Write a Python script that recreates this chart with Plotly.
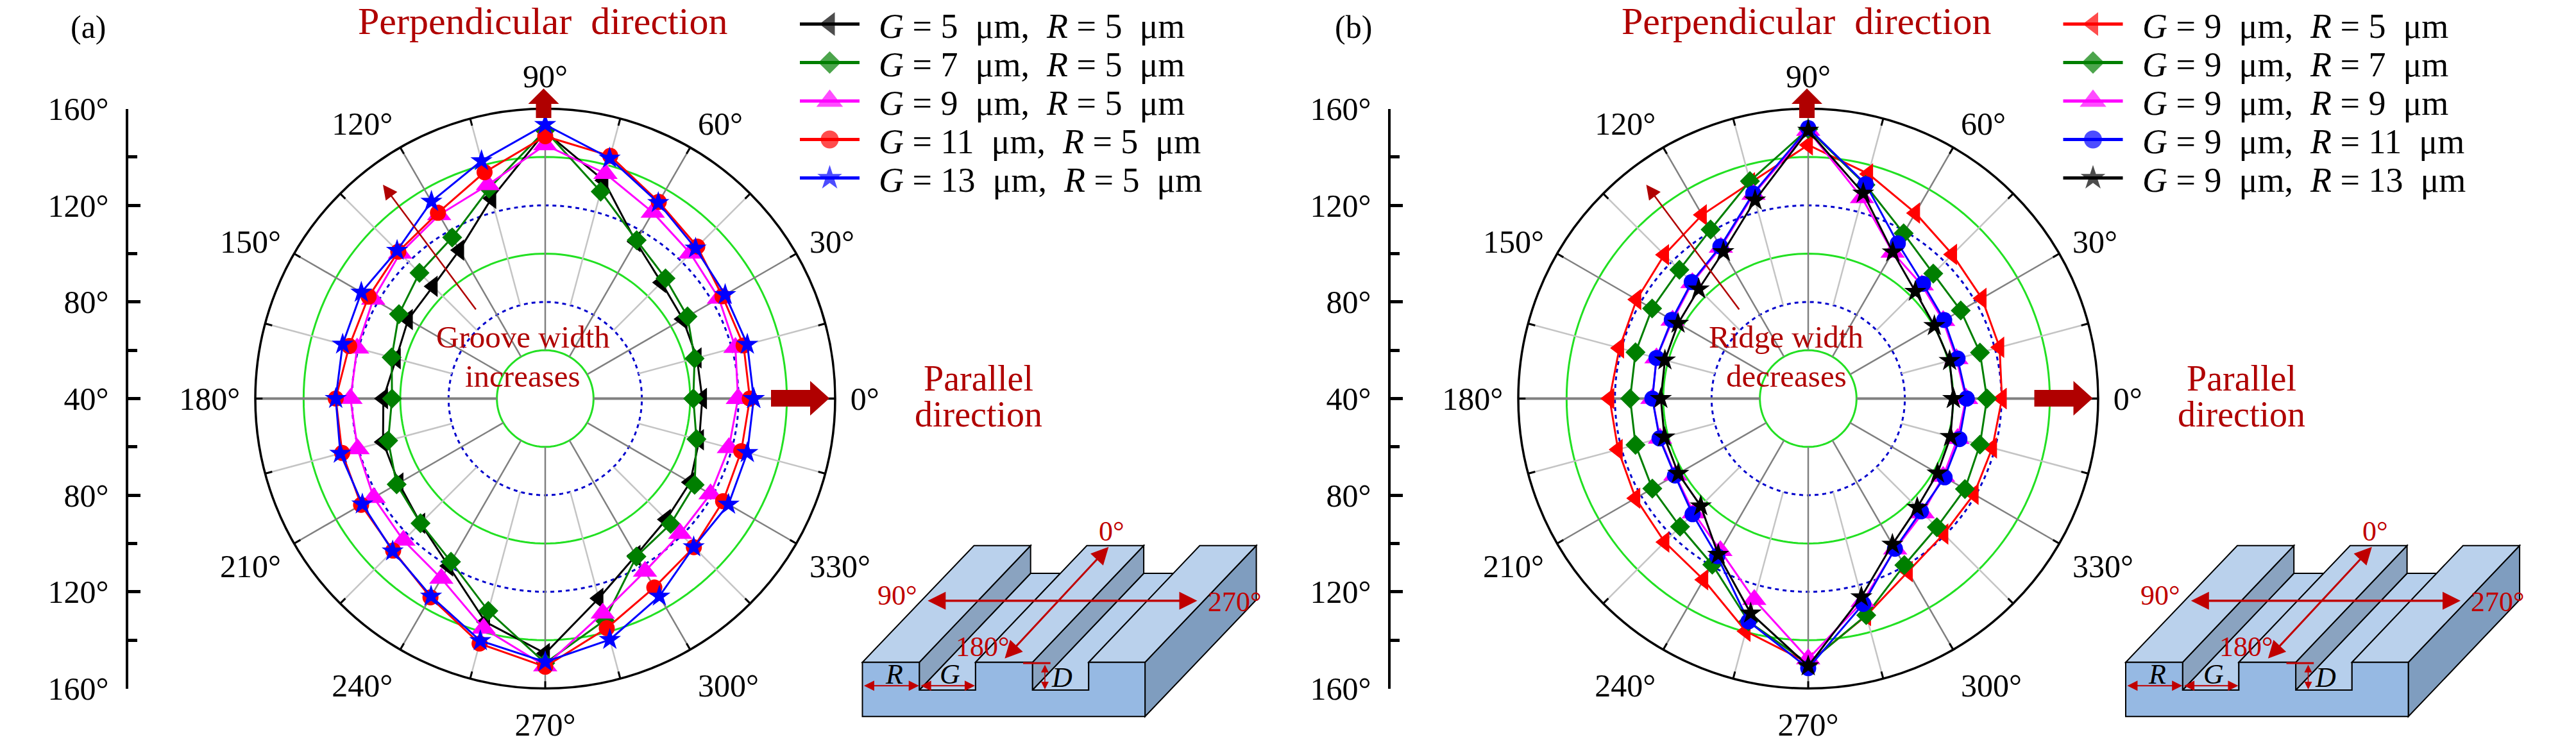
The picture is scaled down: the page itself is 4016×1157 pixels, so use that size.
import plotly.graph_objects as go

W, H = 4016, 1157
FONT = "Liberation Serif"
ANGLES = list(range(0, 360, 15))
LABEL_ANGLES = list(range(0, 360, 30))
LABEL_TEXT = [f"{a}°" for a in LABEL_ANGLES]
RING_THETA = list(range(0, 361, 2))

a_G5 = [105, 105, 105.8, 108, 115, 133.5, 150.5, 125.8, 111, 105.7, 105.5, 103.9, 107, 109.5, 110, 113, 120, 135.7, 145.5, 125.6, 115, 110.8, 109.3, 106]
a_G7 = [101.3, 104, 108, 110.4, 115.7, 128.7, 151, 130, 117, 113.6, 109.9, 105.8, 103.4, 107.3, 111, 113, 118, 131, 149.5, 135, 115.5, 113.4, 111.4, 104.8]
a_G9 = [119.8, 121.5, 123, 125, 129, 136.4, 145, 131.6, 127.8, 125, 122.2, 120.6, 120.6, 120.4, 122, 123, 126, 138.5, 150.7, 132, 122.6, 119, 119, 118.7]
a_G11 = [124.7, 125, 124.7, 129, 134, 144, 148.6, 137, 128.8, 126, 124.4, 124, 126.7, 127, 128, 129, 135, 145, 151, 138.4, 130.3, 127, 125, 124]
a_G13 = [126.3, 126.6, 126, 128, 133.6, 143, 153.4, 141.9, 134.2, 126.7, 127.9, 126.8, 126.7, 127.8, 127.4, 129.3, 134.5, 143.8, 149, 143.3, 134.5, 126.9, 127.6, 126.6]

b_R5 = [120.2, 122, 123, 124.4, 128.7, 136.3, 145, 132.5, 127.8, 124.2, 122, 120.9, 122.2, 121.5, 122.5, 124, 126.6, 139.7, 149.4, 133, 122.7, 119.3, 119.2, 118.9]
b_R7 = [114, 113.6, 112.9, 113.2, 119, 131.6, 151.6, 133.2, 120.8, 115.4, 114.6, 114, 113.7, 114, 114.5, 115, 119.4, 135.5, 149.7, 132.8, 119.6, 115.3, 114.9, 113.6]
b_R9 = [105.3, 103.5, 104.5, 106.5, 109.9, 126, 151, 127.5, 112.3, 107.8, 104.8, 105, 104.5, 103.5, 103.5, 107, 112.7, 126.2, 147.8, 127, 112, 107, 104.5, 104]
b_R11 = [105.6, 104, 105, 107.2, 114.2, 131.9, 152, 127.9, 112.7, 108.2, 105.2, 105, 104.5, 103.7, 103.7, 107.7, 115.3, 135.5, 151.6, 128, 111.8, 106, 105.2, 104.8]
b_R13 = [100.1, 100.6, 100.3, 102.7, 110, 128, 151, 125, 110.2, 104.1, 102.2, 101.4, 101, 101.6, 102.1, 102.9, 114.5, 132, 150.7, 125, 109.7, 103.8, 101.8, 101]

a_series = [a_G5, a_G7, a_G9, a_G11, a_G13]
a_G_vals = [5, 7, 9, 11, 13]
b_series = [b_R5, b_R7, b_R9, b_R11, b_R13]
b_R_vals = [5, 7, 9, 11, 13]

a_colors = ["#000000", "#007F00", "#FF00FF", "#FF0000", "#0000FF"]
b_colors = ["#FF0000", "#007F00", "#FF00FF", "#0000FF", "#000000"]
a_syms = ["triangle-left", "diamond", "triangle-up", "circle", "star"]
b_syms = ["triangle-left", "diamond", "triangle-up", "circle", "star"]
SIZES = {"triangle-left": 29, "diamond": 24, "triangle-up": 33, "circle": 25, "star": 26}

axis_vals = [-120, -80, -40, 0, 40, 80, 120]
axis_text = ["160°", "120°", "80°", "40°", "80°", "120°", "160°"]
axis_minor = [-100, -60, -20, 20, 60, 100]

DARK = "#B00000"
RED = "#C00000"
OFF = 1969.5


def legend_text(g, r):
    nb = "\u00a0"
    return f"<i>G</i>{nb}={nb}{g}{nb}{nb}μm,{nb}{nb}<i>R</i>{nb}={nb}{r}{nb}{nb}μm"


fig = go.Figure()

fig.add_trace(go.Scatter(x=[0], y=[0], mode="none", showlegend=False, xaxis="x", yaxis="y"))
fig.add_trace(go.Scatter(x=[0], y=[0], mode="none", showlegend=False, xaxis="x2", yaxis="y2"))
fig.add_trace(go.Scatter(x=[0], y=[0], mode="none", showlegend=False, xaxis="x3", yaxis="y3"))

shapes, annos = [], []


def text(x, y, s, size=50, color="black", xanchor="center"):
    annos.append(dict(x=x, y=y, xref="x", yref="y", text=s, showarrow=False, xanchor=xanchor,
                      yanchor="middle", font=dict(family=FONT, size=size, color=color)))


def arrow(x0, y0, x1, y1, color=RED, width=3, size=1.6, both=False):
    annos.append(dict(x=x1, y=y1, ax=x0, ay=y0, xref="x", yref="y", axref="x", ayref="y", text="",
                      showarrow=True, arrowhead=2, arrowsize=size, arrowwidth=width, arrowcolor=color,
                      startarrowhead=2, startarrowsize=size, arrowside="end+start" if both else "end"))


def poly(pts, fill, line="black", lw=2):
    d = "M" + " L".join(f"{x:.1f},{y:.1f}" for x, y in pts) + " Z"
    shapes.append(dict(type="path", path=d, xref="x", yref="y", fillcolor=fill,
                       line=dict(color=line, width=lw), layer="above"))


def schematic(off):
    sx = lambda z: 1280 + 0.4847 * z + off
    sy = lambda z: 700 + z / 3
    P = lambda pts: [(sx(a), sy(b)) for a, b in pts]
    top, floor, wall, front, side = "#BAD1EC", "#B6CFEC", "#8AA3C0", "#96B9E3", "#7F9DBF"
    poly(P([(1042, 998), (1400, 452), (1400, 706), (1042, 1252)]), side)
    poly(P([(680, 1128), (861, 1128), (861, 998), (1134, 582), (1038, 582)]), floor)
    poly(P([(680, 998), (1038, 452), (1038, 582), (680, 1128)]), wall)
    poly(P([(316, 1128), (497, 1128), (497, 998), (770, 582), (674, 582)]), floor)
    poly(P([(316, 998), (674, 452), (674, 582), (316, 1128)]), wall)
    poly(P([(133, 998), (316, 998), (674, 452), (492, 452)]), top)
    poly(P([(497, 998), (680, 998), (1038, 452), (855, 452)]), top)
    poly(P([(861, 998), (1042, 998), (1400, 452), (1218, 452)]), top)
    poly(P([(133, 1252), (1042, 1252), (1042, 998), (861, 998), (861, 1128), (680, 1128), (680, 998),
            (497, 998), (497, 1128), (316, 1128), (316, 998), (133, 998)]), front)
    arrow(sx(340), sy(710), sx(1210), sy(710), width=3.5, size=1.6, both=True)
    arrow(sx(588), sy(985), sx(925), sy(458), width=3, size=1.8, both=True)
    arrow(sx(135), sy(1108), sx(315), sy(1108), width=2, size=1.6, both=True)
    arrow(sx(318), sy(1108), sx(495), sy(1108), width=2, size=1.6, both=True)
    arrow(sx(720), sy(1005), sx(720), sy(1125), width=1.5, size=1.6, both=True)
    shapes.append(dict(type="line", x0=sx(650), x1=sx(738), y0=sy(1002), y1=sy(1002), xref="x", yref="y",
                       line=dict(color=RED, width=3), layer="above"))
    text(sx(245), sy(685), "90°", 44, RED)
    text(sx(1330), sy(715), "270°", 44, RED)
    text(sx(935), sy(385), "0°", 44, RED)
    text(sx(520), sy(925), "180°", 44, RED)
    text(sx(235), sy(1055), "<i>R</i>", 44)
    text(sx(415), sy(1055), "<i>G</i>", 44)
    text(sx(775), sy(1068), "<i>D</i>", 44)


def block_arrows(off):
    cx = 847.5 + off
    poly([(cx, 138), (cx + 24, 162), (cx + 12, 162), (cx + 12, 184), (cx - 12, 184), (cx - 12, 162), (cx - 24, 162)], DARK, DARK, 0)
    x0 = 1202 + off
    poly([(x0, 608), (x0 + 61, 608), (x0 + 61, 594), (x0 + 91, 621), (x0 + 61, 648), (x0 + 61, 634), (x0, 634)], DARK, DARK, 0)


def panel(pid, series, colors, syms, key_text, off, tag, tagx, word1, word2):
    pname = "polar" if pid == 1 else f"polar{pid}"
    for val, col, dash in [(60, "#22E022", "solid"), (80, "#0000CC", "6px,6px"), (100, "#22E022", "solid"),
                           (120, "#0000CC", "6px,6px"), (140, "#22E022", "solid")]:
        fig.add_trace(go.Scatterpolar(r=[val] * len(RING_THETA), theta=RING_THETA, mode="lines", subplot=pname,
                                      showlegend=False, hoverinfo="skip",
                                      line=dict(color=col, width=3, dash=dash)))
    for ang in ANGLES:
        major = ang % 30 == 0
        fig.add_trace(go.Scatterpolar(r=[60 if major else 80, 160], theta=[ang, ang], mode="lines", subplot=pname,
                                      showlegend=False, hoverinfo="skip",
                                      line=dict(color="#808080" if major else "#C4C4C4", width=4 if ang % 180 == 0 else 2.5)))
        fig.add_trace(go.Scatterpolar(r=[157, 160], theta=[ang, ang], mode="lines", subplot=pname,
                                      showlegend=False, hoverinfo="skip", line=dict(color="black", width=3)))
    for vals, col, sym, lab in zip(series, colors, syms, key_text):
        fig.add_trace(go.Scatterpolar(r=vals + vals[:1], theta=ANGLES + ANGLES[:1], mode="lines+markers", subplot=pname,
                                      name=lab, showlegend=False,
                                      line=dict(color=col, width=3),
                                      marker=dict(symbol=sym, color=col, size=SIZES[sym], line=dict(width=0))))
    for i, (col, sym, lab) in enumerate(zip(colors, syms, key_text)):
        y = 37.5 + 60 * i
        x0 = 1247 + off
        fig.add_trace(go.Scatter(x=[x0, x0 + 46.5, x0 + 93], y=[y, y, y], mode="lines+markers", xaxis="x", yaxis="y",
                                 showlegend=False, hoverinfo="skip", line=dict(color=col, width=5),
                                 marker=dict(symbol=sym, color=col, size=[0, SIZES[sym] + 3, 0], line=dict(width=0))))
        text(1368 + off, y + 3, lab, 54, xanchor="left")
    text(846 + off, 33, "Perpendicular\u00a0\u00a0direction", 60, DARK)
    text(1525 + off, 590, "Parallel", 56, DARK)
    text(1525 + off, 646, "direction", 56, DARK)
    text(tagx, 42, tag, 50)
    text(815 + off, 525, word1, 49, DARK)
    text(815 + off, 586, word2, 49, DARK)
    arrow(743 + off, 484, 597 + off, 288, color=DARK, width=2.5, size=1.8)
    schematic(off)
    block_arrows(off)


a_keys = [legend_text(g, 5) for g in a_G_vals]
b_keys = [legend_text(9, r) for r in b_R_vals]
panel(1, a_series, a_colors, a_syms, a_keys, 0, "(a)", 138, "Groove width", "increases")
panel(2, b_series, b_colors, b_syms, b_keys, OFF, "(b)", 2110, "Ridge width", "decreases")


def polar_layout(cx):
    R = 452
    return dict(
        domain=dict(x=[(cx - R) / W, (cx + R) / W], y=[1 - (621.5 + R) / H, 1 - (621.5 - R) / H]),
        bgcolor="rgba(0,0,0,0)",
        radialaxis=dict(range=[40, 160], visible=False),
        angularaxis=dict(direction="counterclockwise", rotation=0, tickmode="array", tickvals=LABEL_ANGLES,
                         ticktext=LABEL_TEXT, showgrid=False, showline=True, linecolor="black", linewidth=3.5,
                         ticks="outside", ticklen=12, tickcolor="rgba(0,0,0,0)",
                         tickfont=dict(family=FONT, size=50, color="black")),
    )


def left_axis():
    return dict(range=[-120, 120], tickmode="array", tickvals=axis_vals, ticktext=axis_text, ticks="inside",
                ticklen=19, tickwidth=5, tickcolor="black", showline=True, linewidth=4, linecolor="black",
                showgrid=False, zeroline=False, ticklabelstandoff=16, automargin=False,
                tickfont=dict(family=FONT, size=50, color="black"),
                minor=dict(tickmode="array", tickvals=axis_minor, ticks="inside", ticklen=14, tickwidth=5,
                           tickcolor="black", showgrid=False),
                domain=[1 - 1073.5 / H, 1 - 169.5 / H])


fig.update_layout(
    width=W, height=H, margin=dict(l=0, r=0, t=0, b=0), paper_bgcolor="white", plot_bgcolor="rgba(0,0,0,0)",
    showlegend=False, shapes=shapes, annotations=annos,
    polar=polar_layout(850), polar2=polar_layout(2819),
    xaxis=dict(domain=[0, 1], range=[0, W], visible=False, automargin=False),
    yaxis=dict(domain=[0, 1], range=[H, 0], visible=False, automargin=False),
    xaxis2=dict(domain=[199.5 / W, 240 / W], range=[0, 1], visible=False, automargin=False),
    yaxis2=dict(anchor="x2", **left_axis()),
    xaxis3=dict(domain=[(199.5 + 1968) / W, (240 + 1968) / W], range=[0, 1], visible=False, automargin=False),
    yaxis3=dict(anchor="x3", **left_axis()),
)
fig.write_html("out.html", config={"displayModeBar": False},
               post_script="document.body.style.margin='0';document.body.style.overflow='hidden';")
